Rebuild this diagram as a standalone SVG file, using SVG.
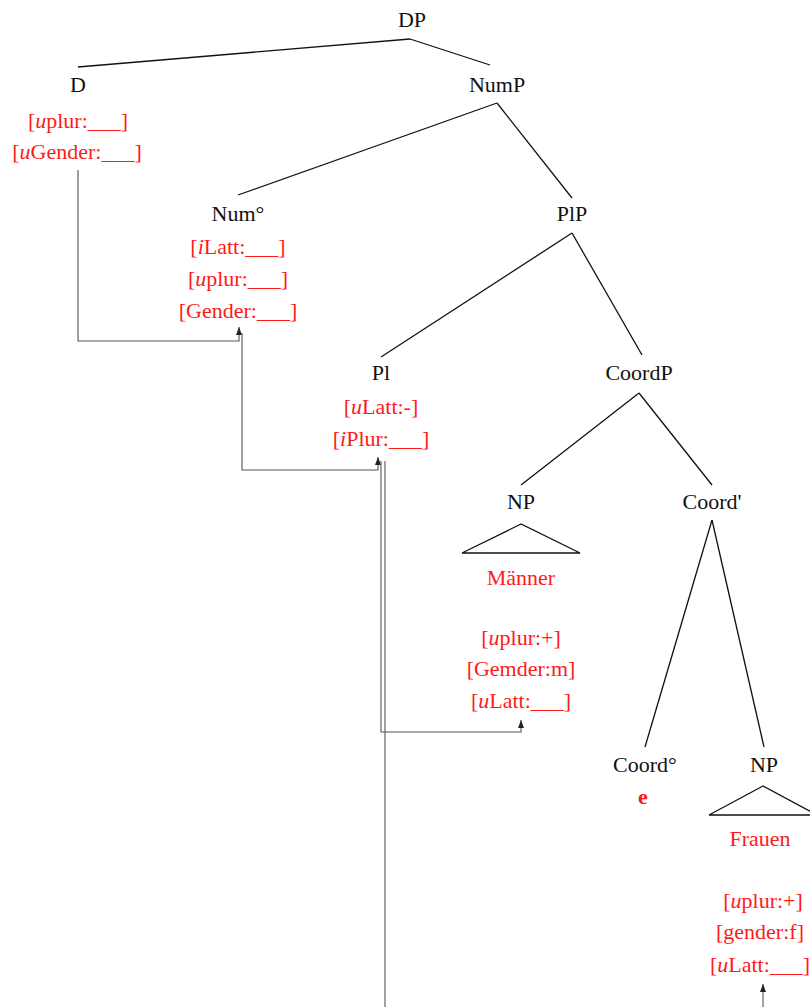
<svg xmlns="http://www.w3.org/2000/svg" width="810" height="1007" viewBox="0 0 810 1007">
<defs>
<style>
text{font-family:"Liberation Serif","Times New Roman",serif;font-size:22px;text-anchor:middle}
.lab{fill:#111}
.f{fill:#ff1a1a}
.i{font-style:italic}
.tree line,.tree polygon{stroke:#111;stroke-width:1.3;fill:none}
.conn polyline{stroke:#555;stroke-width:1.1;fill:none}
</style>
<marker id="ah" viewBox="0 0 8 6" refX="8" refY="3" markerWidth="8" markerHeight="6" markerUnits="userSpaceOnUse" orient="auto">
<path d="M0,0 L8,3 L0,6 Z" fill="#222"/>
</marker>
</defs>
<rect width="810" height="1007" fill="#fff"/>
<g class="tree" id="branches">
<line x1="410" y1="39" x2="78" y2="67"/>
<line x1="410" y1="39" x2="490" y2="65"/>
<line x1="497" y1="103" x2="238" y2="195"/>
<line x1="497" y1="103" x2="572" y2="198"/>
<line x1="572" y1="233" x2="381" y2="357"/>
<line x1="572" y1="233" x2="642" y2="355"/>
<line x1="639" y1="393" x2="521" y2="485"/>
<line x1="639" y1="393" x2="712" y2="485"/>
<line x1="712" y1="520" x2="645" y2="747"/>
<line x1="712" y1="520" x2="764" y2="747"/>
<polygon points="521,524 462,553 580,553"/>
<polygon points="763,786 709,815 817,815"/>
</g>
<g class="conn" id="connectors">
<polyline points="78,170 78,341 239,341 239,327" marker-end="url(#ah)"/>
<polyline points="242,333 242,470 378,470 378,457" marker-end="url(#ah)"/>
<polyline points="381,461 381,732 521,732 521,720" marker-end="url(#ah)"/>
<polyline points="385,461 385,1007"/>
<polyline points="763,1007 763,984" marker-end="url(#ah)"/>
</g>
<g id="DP"><text class="lab" x="412" y="27">DP</text></g>
<g id="D">
<text class="lab" x="78" y="92">D</text>
<text class="f" x="78" y="128">[<tspan class="i">u</tspan>plur:___]</text>
<text class="f" x="77" y="159">[<tspan class="i">u</tspan>Gender:___]</text>
</g>
<g id="NumP"><text class="lab" x="497" y="92">NumP</text></g>
<g id="Num">
<text class="lab" x="238" y="221">Num°</text>
<text class="f" x="238" y="254">[<tspan class="i">i</tspan>Latt:___]</text>
<text class="f" x="238" y="286">[<tspan class="i">u</tspan>plur:___]</text>
<text class="f" x="238" y="318">[Gender:___]</text>
</g>
<g id="PlP"><text class="lab" x="572" y="221">PlP</text></g>
<g id="Pl">
<text class="lab" x="381" y="380">Pl</text>
<text class="f" x="381" y="414">[<tspan class="i">u</tspan>Latt:-]</text>
<text class="f" x="381" y="446">[<tspan class="i">i</tspan>Plur:___]</text>
</g>
<g id="CoordP"><text class="lab" x="639" y="380">CoordP</text></g>
<g id="NP1">
<text class="lab" x="521" y="509">NP</text>
<text class="f" x="521" y="585">Männer</text>
<text class="f" x="521" y="645">[<tspan class="i">u</tspan>plur:+]</text>
<text class="f" x="521" y="676">[Gemder:m]</text>
<text class="f" x="521" y="708">[<tspan class="i">u</tspan>Latt:___]</text>
</g>
<g id="CoordBar"><text class="lab" x="712" y="509">Coord'</text></g>
<g id="Coord0">
<text class="lab" x="645" y="772">Coord°</text>
<text class="f" x="643" y="804" font-weight="bold">e</text>
</g>
<g id="NP2">
<text class="lab" x="764" y="772">NP</text>
<text class="f" x="760" y="846">Frauen</text>
<text class="f" x="763" y="908">[<tspan class="i">u</tspan>plur:+]</text>
<text class="f" x="760" y="939">[gender:f]</text>
<text class="f" x="760" y="972">[<tspan class="i">u</tspan>Latt:___]</text>
</g>
</svg>
